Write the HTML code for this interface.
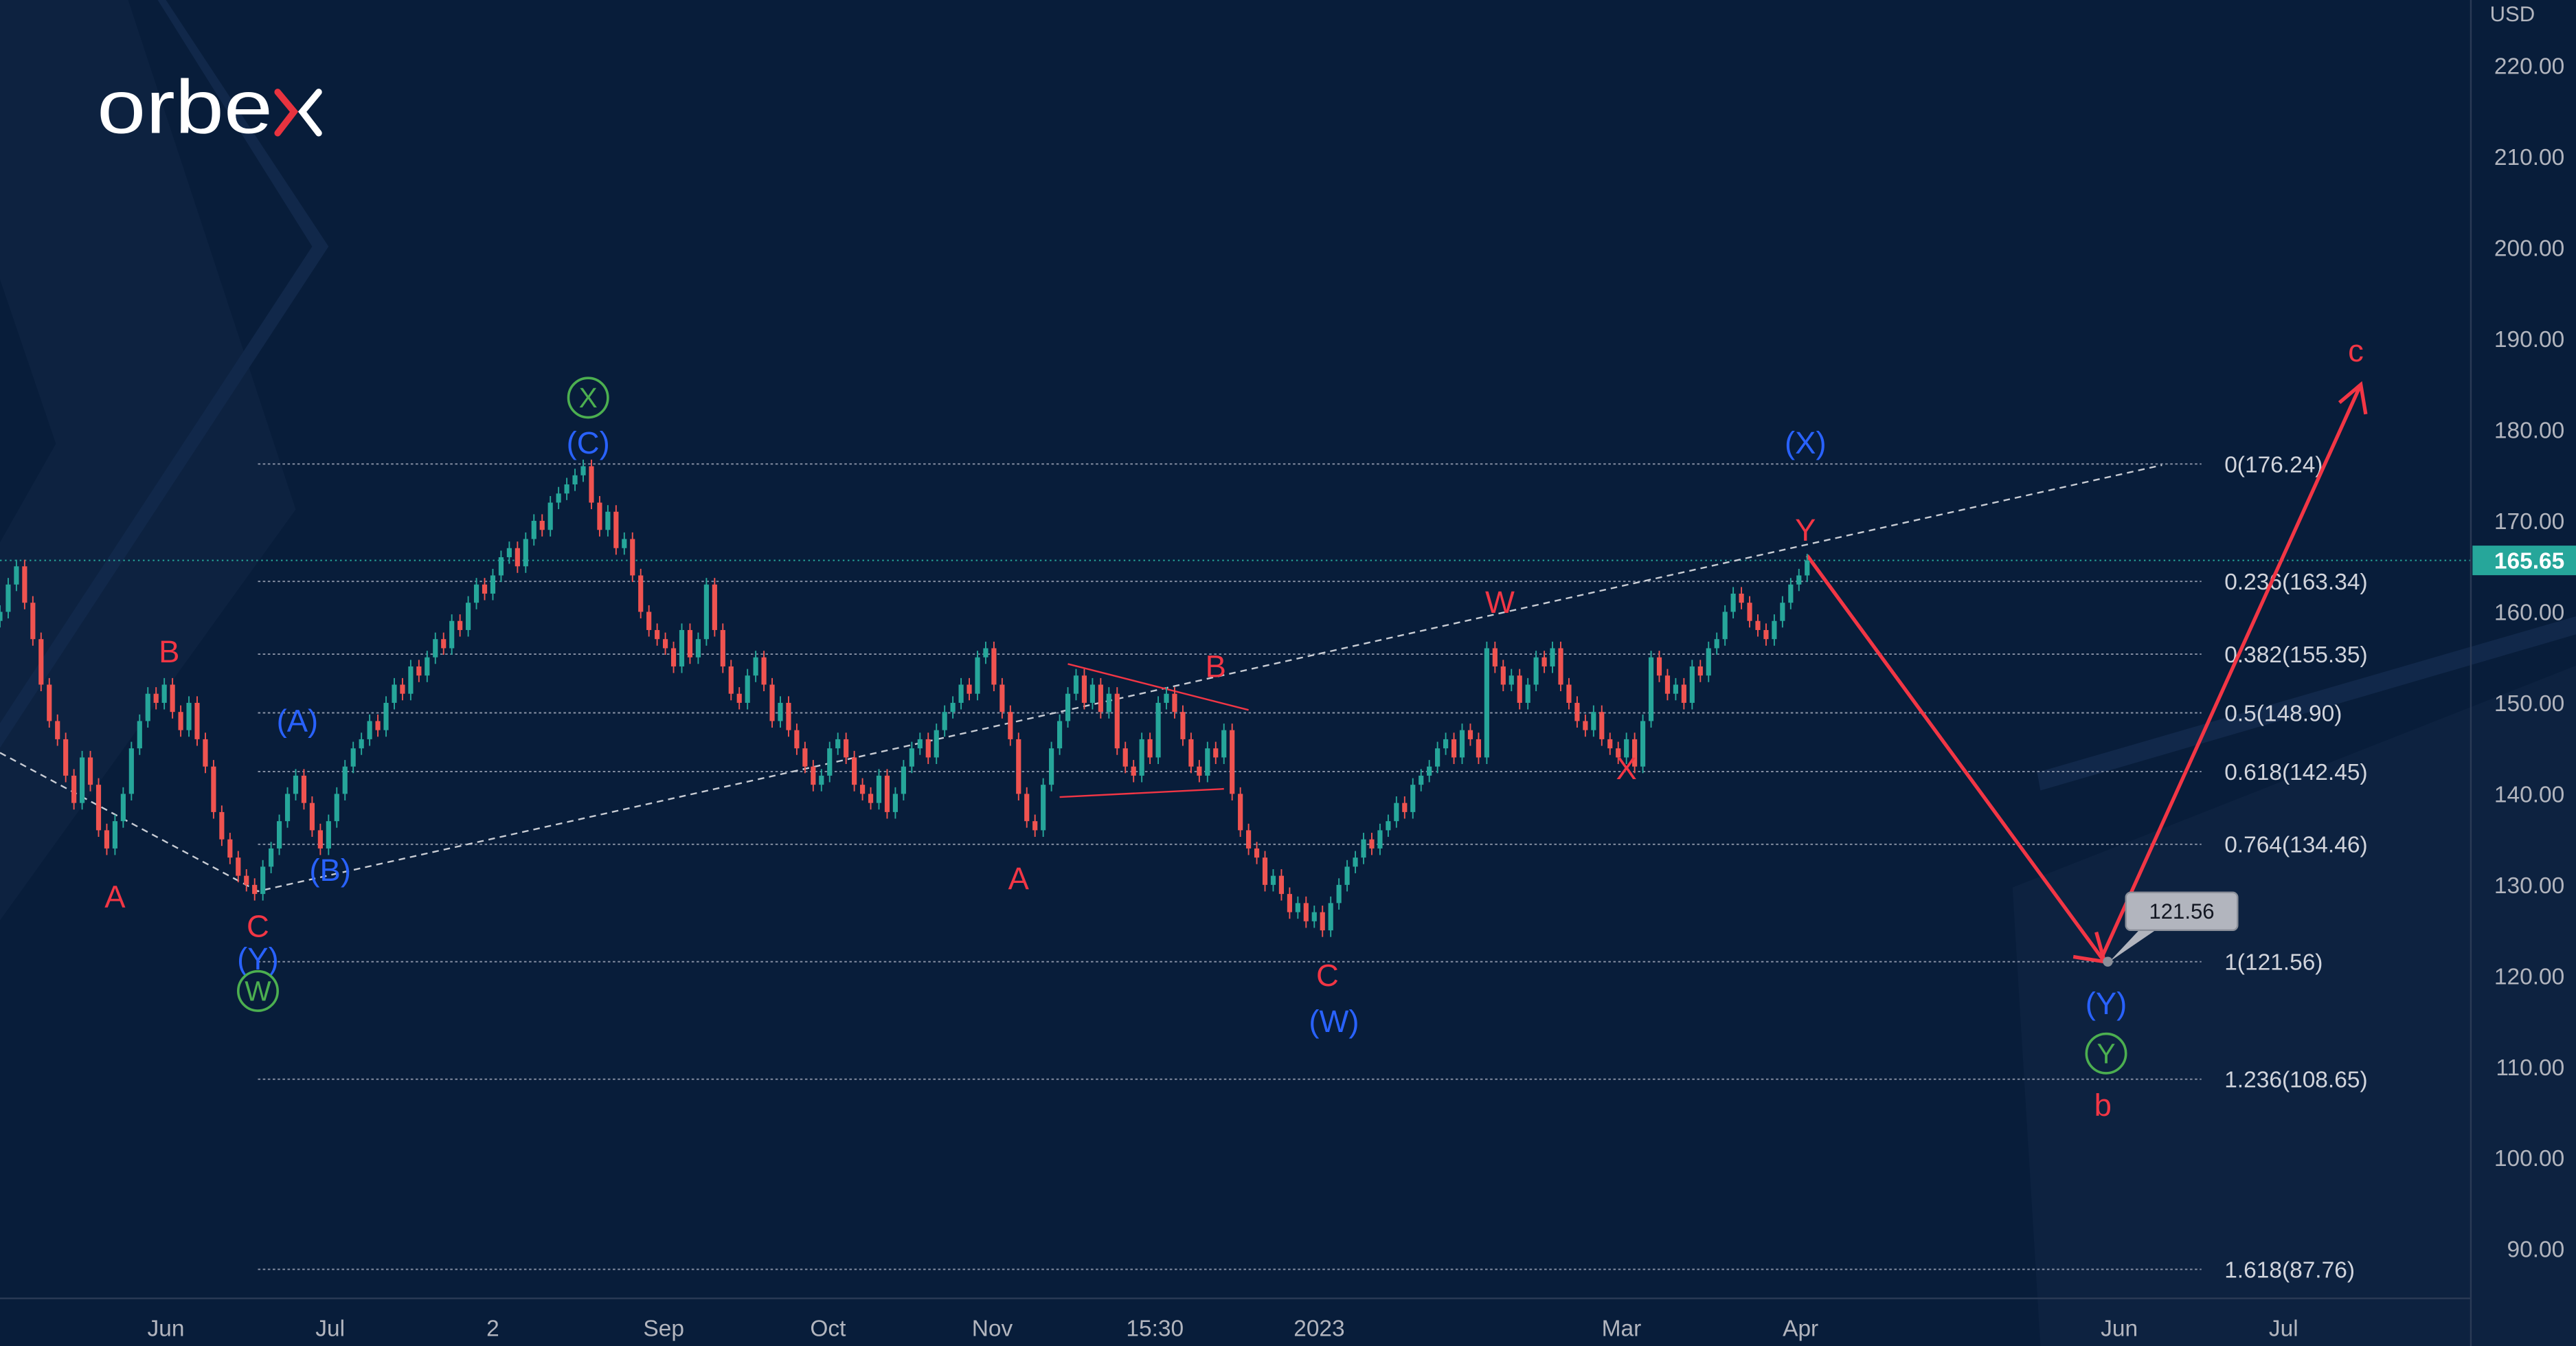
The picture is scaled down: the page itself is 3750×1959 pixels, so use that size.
<!DOCTYPE html>
<html><head><meta charset="utf-8"><style>
html,body{margin:0;padding:0;background:#081d3a;}
svg{display:block;}
text{font-family:"Liberation Sans","DejaVu Sans",sans-serif;}
</style></head><body>
<svg id="chart" width="3750" height="1959" viewBox="0 0 1568 819" preserveAspectRatio="none" xmlns="http://www.w3.org/2000/svg">
<rect x="0" y="0" width="1568" height="819" fill="#081d3a"/>
<g>
<polygon points="0,0 78,0 180,310 0,560 0,330 34,270 0,170" fill="#0d2240"/>
<polygon points="96,0 101,0 200,150 0,455 0,440 190,150" fill="#11284a"/>
<polygon points="1225,540 1568,405 1568,819 1242,819" fill="#0d2240"/>
<polygon points="1240,470 1568,375 1568,386 1242,481" fill="#11284a"/>
</g>
<g id="fib"></g>
<g id="grid-extra"></g>
<g id="candles"></g>
<g id="labels"></g>
<line x1="1504" y1="0" x2="1504" y2="819" stroke="#2a3a55" stroke-width="1"/>
<line x1="0" y1="790" x2="1504" y2="790" stroke="#2a3a55" stroke-width="1"/>
<g id="yaxis"></g>
<g id="xaxis"></g>
<g>
<text x="59" y="81" font-size="46" fill="#ffffff" font-family="Liberation Sans" textLength="107" lengthAdjust="spacingAndGlyphs">orbe</text>
<path d="M169,56 L179,68 L169,81" stroke="#e8333f" stroke-width="4" fill="none" stroke-linecap="round"/>
<path d="M194,56 L184,68 L194,81" stroke="#ffffff" stroke-width="4" fill="none" stroke-linecap="round"/>
</g>
</svg>
<script>
const closes=[160,163,165,161,157,
152,148,146,142,139,144,141,136,134,137,
140,145,148,151,150,152,
149,147,150,146,143,138,135,133,131,130,129,
132,134,137,140,142,139,136,134,137,
140,143,145,146,148,147,150,152,151,154,153,
155,157,156,159,158,161,163,162,164,
166,167,165,168,170,169,172,173,174,175,176,
172,169,171,167,168,164,160,158,157,
156,154,158,155,157,163,158,154,151,150,
153,155,152,148,150,147,145,143,141,142,
145,146,144,141,140,139,142,138,140,
143,145,146,144,147,149,150,152,151,155,156,
152,149,146,140,137,136,141,145,148,151,
153,150,152,149,151,145,143,142,146,144,
150,151,149,146,143,142,145,144,147,140,
136,134,133,130,131,129,127,128,126,127,
125,128,130,132,133,135,134,136,137,139,
138,141,142,143,145,146,144,147,146,144,
156,154,152,153,150,152,155,154,156,152,
150,148,147,149,146,145,144,146,143,148,
155,153,151,152,150,154,153,156,157,160,
162,161,159,158,157,159,161,163,164,165.65];
const priceTicks=[220,210,200,190,180,170,160,150,140,130,120,110,100,90];
const fibRatios=["0","0.236","0.382","0.5","0.618","0.764","1","1.236","1.618"];
const fibPrices=[176.24,163.34,155.35,148.90,142.45,134.46,121.56,108.65,87.76];
const timeLabels=["Jun","Jul","2","Sep","Oct","Nov","15:30","2023","Mar","Apr","Jun","Jul"];
const timeSlots=[20.2,40.2,60,80.8,100.8,120.8,140.6,160.6,197.4,219.2,258,278];
const lastPrice=165.65;
const target=121.56;

const NS="http://www.w3.org/2000/svg";
function yP(p){return 40+(220-p)*5.538;}
function xI(i){return i*5;}
function mk(tag,attrs,parent,txt){const e=document.createElementNS(NS,tag);for(const k in attrs)e.setAttribute(k,attrs[k]);if(txt!==undefined)e.textContent=txt;parent.appendChild(e);return e;}

const cg=document.getElementById('candles');
for(let i=0;i<closes.length;i++){
  const o=i===0?closes[0]-1:closes[i-1], c=closes[i];
  const up=c>=o, col=up?'#26a69a':'#ef5350';
  const g=mk('g',{},cg);
  
  
  const x=xI(i);
  mk('line',{x1:x,x2:x,y1:yP(Math.max(o,c))-4,y2:yP(Math.min(o,c))+4,stroke:col,'stroke-width':0.8},g);
  const top=yP(Math.max(o,c)),h=Math.max(1,yP(Math.min(o,c))-top);
  mk('rect',{x:x-1.5,y:top,width:3,height:h,fill:col},g);
}

const fg=document.getElementById('fib');
for(let i=0;i<fibPrices.length;i++){
  const y=yP(fibPrices[i]);
  const l=mk('line',{x1:157,x2:1340,y1:y,y2:y,stroke:'#8a93a6','stroke-width':0.8,'stroke-dasharray':'1.5,1.5'},fg);
  
  
  const t=mk('text',{x:1354,y:y+5,'font-size':14,fill:'#d1d4dc'},fg,fibRatios[i]+'('+fibPrices[i].toFixed(2)+')');
  
  
}

const og=document.getElementById('grid-extra');
const ly=yP(lastPrice);
mk('line',{x1:0,x2:1504,y1:ly,y2:ly,stroke:'#26a69a','stroke-width':0.8,'stroke-dasharray':'1,2'},og);
mk('polyline',{points:`0,458 157,${yP(129.3)} 1316,283`,fill:'none',stroke:'#c8ccd4','stroke-width':1,'stroke-dasharray':'4,3'},og);
mk('line',{x1:650,y1:404,x2:760,y2:432,stroke:'#f23645','stroke-width':1},og);
mk('line',{x1:645,y1:485,x2:745,y2:480,stroke:'#f23645','stroke-width':1},og);
const ty=yP(target);
mk('path',{d:`M1100,338 L1281,${ty} M1262,${ty-3} L1281,${ty} L1276,${ty-18}`,stroke:'#f23645','stroke-width':2.2,fill:'none'},og);
mk('path',{d:`M1280,${ty-4} L1437,234 M1424,245 L1437,234 L1440,252`,stroke:'#f23645','stroke-width':2.2,fill:'none'},og);
const cb=mk('g',{},og);


mk('path',{d:`M1284,${ty} L1302,566 L1312,566 Z`,fill:'#b2b5be'},cb);
mk('rect',{x:1294,y:543,width:68,height:23,rx:3,fill:'#b2b5be',stroke:'#8a8f99'},cb);
mk('text',{x:1328,y:559,'font-size':13,fill:'#131722','text-anchor':'middle'},cb,target.toFixed(2));
mk('circle',{cx:1283,cy:ty,r:3,fill:'#8a8f99'},cb);

const lg=document.getElementById('labels');
const red='#f23645',blue='#2962ff',green='#4caf50';
const labs=[['B',103,403,red],['A',70,552,red],['C',157,570,red],['A',620,541,red],['B',740,412,red],['C',808,600,red],['W',913,373,red],['X',990,474,red],['Y',1099,329,red],['c',1434,220,red],['b',1280,679,red],
['(A)',181,445,blue],['(B)',201,536,blue],['(Y)',157,590,blue],['(C)',358,276,blue],['(W)',812,628,blue],['(X)',1099,276,blue],['(Y)',1282,617,blue]];
for(const [t,x,y,c] of labs){
  const e=mk('text',{x:x,y:y,'font-size':19,fill:c,'text-anchor':'middle'},lg,t);
  
  
}
for(const [t,x,y] of [['X',358,242],['W',157,603],['Y',1282,641]]){
  const g=mk('g',{},lg);
  
  
  mk('circle',{cx:x,cy:y,r:12,fill:'none',stroke:green,'stroke-width':1.5},g);
  mk('text',{x:x,y:y+6,'font-size':17,fill:green,'text-anchor':'middle'},g,t);
}

const ya=document.getElementById('yaxis');
mk('text',{x:1543,y:13,'font-size':13,fill:'#b2b5be','text-anchor':'end'},ya,'USD');
for(const p of priceTicks){
  const t=mk('text',{x:1561,y:yP(p)+5,'font-size':14,fill:'#b2b5be','text-anchor':'end'},ya,p.toFixed(2));
  
  
}
const tag=mk('g',{},ya);


mk('rect',{x:1505,y:ly-9,width:63,height:18,fill:'#26a69a'},tag);
mk('text',{x:1561,y:ly+5,'font-size':14,'font-weight':'bold',fill:'#ffffff','text-anchor':'end'},tag,lastPrice.toFixed(2));

const xa=document.getElementById('xaxis');
for(let i=0;i<timeLabels.length;i++){
  const t=mk('text',{x:xI(timeSlots[i]),y:813,'font-size':14,fill:'#b2b5be','text-anchor':'middle'},xa,timeLabels[i]);
  
  
}
</script>
</body></html>
